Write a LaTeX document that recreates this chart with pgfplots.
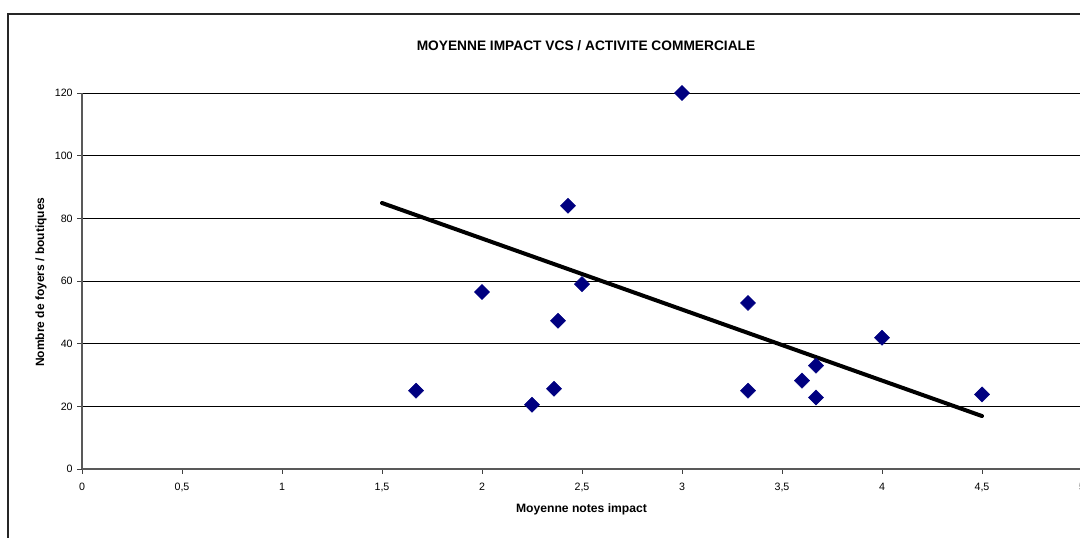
\documentclass[border=0pt]{standalone}
\usepackage{pgfplots}
\pgfplotsset{compat=1.18}
\usepackage{fontspec}
\setmainfont{Liberation Sans}
\definecolor{navy}{HTML}{000080}
\begin{document}
\begin{tikzpicture}
\path[use as bounding box] (0pt,0pt) rectangle (810pt,402.75pt);
\clip (0pt,0pt) rectangle (810pt,402.75pt);
\draw[line width=0.9pt, black!85] (6pt,392.25pt) rectangle (830pt,-20pt);
\begin{axis}[
  at={(61.5pt,51pt)}, anchor=south west,
  scale only axis, width=750pt, height=282pt,
  xmin=0, xmax=5, ymin=0, ymax=120,
  axis x line=bottom, axis y line=left,
  axis line style={-, black!65, line width=0.8pt},
  xtick={0,0.5,...,5}, ytick={0,20,...,120},
  ymajorgrids, major grid style={black, line width=0.6pt},
  tick align=outside, major tick length=3.5pt,
  tick style={black!75, line width=0.6pt},
  /pgf/number format/use comma,
  /pgf/number format/assume math mode=true,
  ticklabel style={font=\fontsize{8}{9}\selectfont, text=black},
  xticklabel style={yshift=-3.5pt},
  clip=false,
]
\addplot[only marks, mark=square*, mark size=4pt, mark options={rotate=45, fill=navy, draw=navy}] coordinates {
(1.67,25) (2,56.5) (2.25,20.5) (2.36,25.6) (2.38,47.3) (2.43,84) (2.5,59) (3,120)
(3.33,53) (3.33,25) (3.6,28.2) (3.67,33) (3.67,22.8) (4,41.9) (4.5,23.8)
};
\addplot[black, line width=3pt, line cap=round] coordinates {(1.5,84.9) (4.5,16.9)};
\end{axis}
\node[font=\bfseries\fontsize{10.3}{12}\selectfont] at (439.5pt,368.6pt) {MOYENNE IMPACT VCS / ACTIVITE COMMERCIALE};
\node[font=\bfseries\fontsize{9.1}{11}\selectfont] at (436.1pt,21pt) {Moyenne notes impact};
\node[font=\bfseries\fontsize{9}{11}\selectfont, rotate=90] at (30.75pt,191.25pt) {Nombre de foyers / boutiques};
\end{tikzpicture}
\end{document}
